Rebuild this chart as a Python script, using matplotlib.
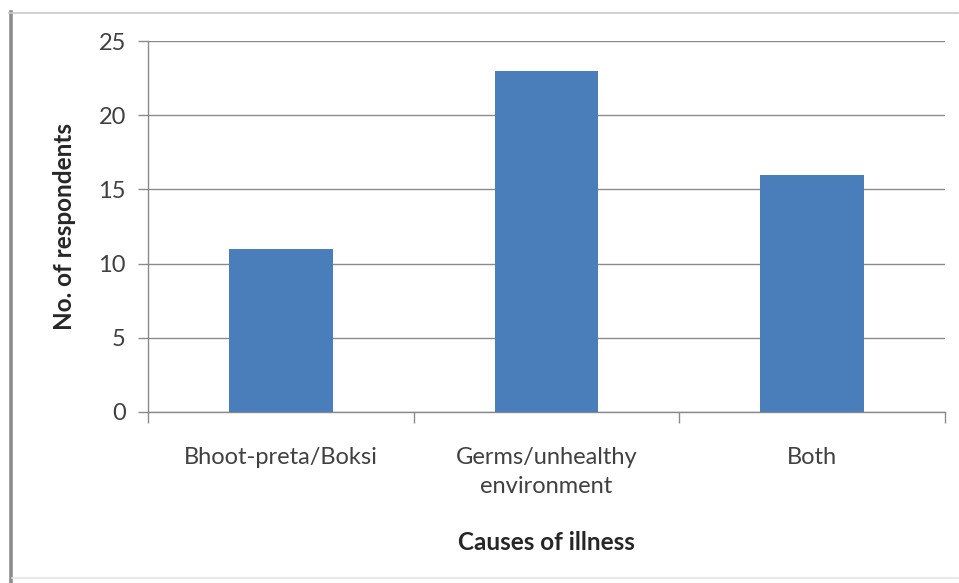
import matplotlib.pyplot as plt
from matplotlib.lines import Line2D
import numpy as np

plt.rcParams['font.family'] = ['Lato', 'DejaVu Sans']

causes = ['Bhoot-preta/Boksi', 'Germs/unhealthy\nenvironment', 'Both']
respondents = [11, 23, 16]
y_ticks = [0, 5, 10, 15, 20, 25]

W, H = 959, 583
fig = plt.figure(figsize=(W / 100, H / 100), dpi=100)

# outer chart frame
fig.add_artist(Line2D([10.5 / W, 10.5 / W], [0, 1 - 12 / H], color='#8c8c8c', lw=2.6,
                      transform=fig.transFigure))
fig.add_artist(Line2D([9 / W, 958 / W], [1 - 12.5 / H, 1 - 12.5 / H], color='#c8c8c8', lw=1.2,
                      transform=fig.transFigure))
fig.add_artist(Line2D([12 / W, 958 / W], [1 - 578 / H, 1 - 578 / H], color='#e4e4e4', lw=1.2,
                      transform=fig.transFigure))

ax = fig.add_axes([148 / W, 1 - 412 / H, (945 - 148) / W, (412 - 41) / H])

x = np.arange(len(causes))
ax.bar(x, respondents, width=0.39, color='#4a7ebb', zorder=3)

ax.set_xlim(-0.5, len(causes) - 0.5)
ax.set_ylim(0, 25)
ax.set_yticks(y_ticks)
ax.set_yticklabels([str(v) for v in y_ticks])
ax.set_xticks(x)
ax.set_xticklabels(causes, linespacing=1.5)
ax.set_xticks(np.arange(len(causes) + 1) - 0.5, minor=True)

ax.grid(axis='y', color='#8a8a8a', lw=1.0, zorder=0)
for s in ['top', 'right']:
    ax.spines[s].set_visible(False)
for s in ['left', 'bottom']:
    ax.spines[s].set_color('#8a8a8a')
    ax.spines[s].set_linewidth(1.0)

ax.tick_params(axis='y', length=7, color='#8a8a8a', width=1.0, labelsize=17,
               labelcolor='#404040', pad=9)
ax.tick_params(axis='x', which='major', length=0, labelsize=17, labelcolor='#404040', pad=25)
ax.tick_params(axis='x', which='minor', length=8, color='#8a8a8a', width=1.0)

ax.set_ylabel('No. of respondents', fontsize=17.5, fontweight='bold', color='#262626', labelpad=16)
ax.set_xlabel('Causes of illness', fontsize=17.5, fontweight='bold', color='#262626', labelpad=24)

fig.savefig('out.png', dpi=100)
